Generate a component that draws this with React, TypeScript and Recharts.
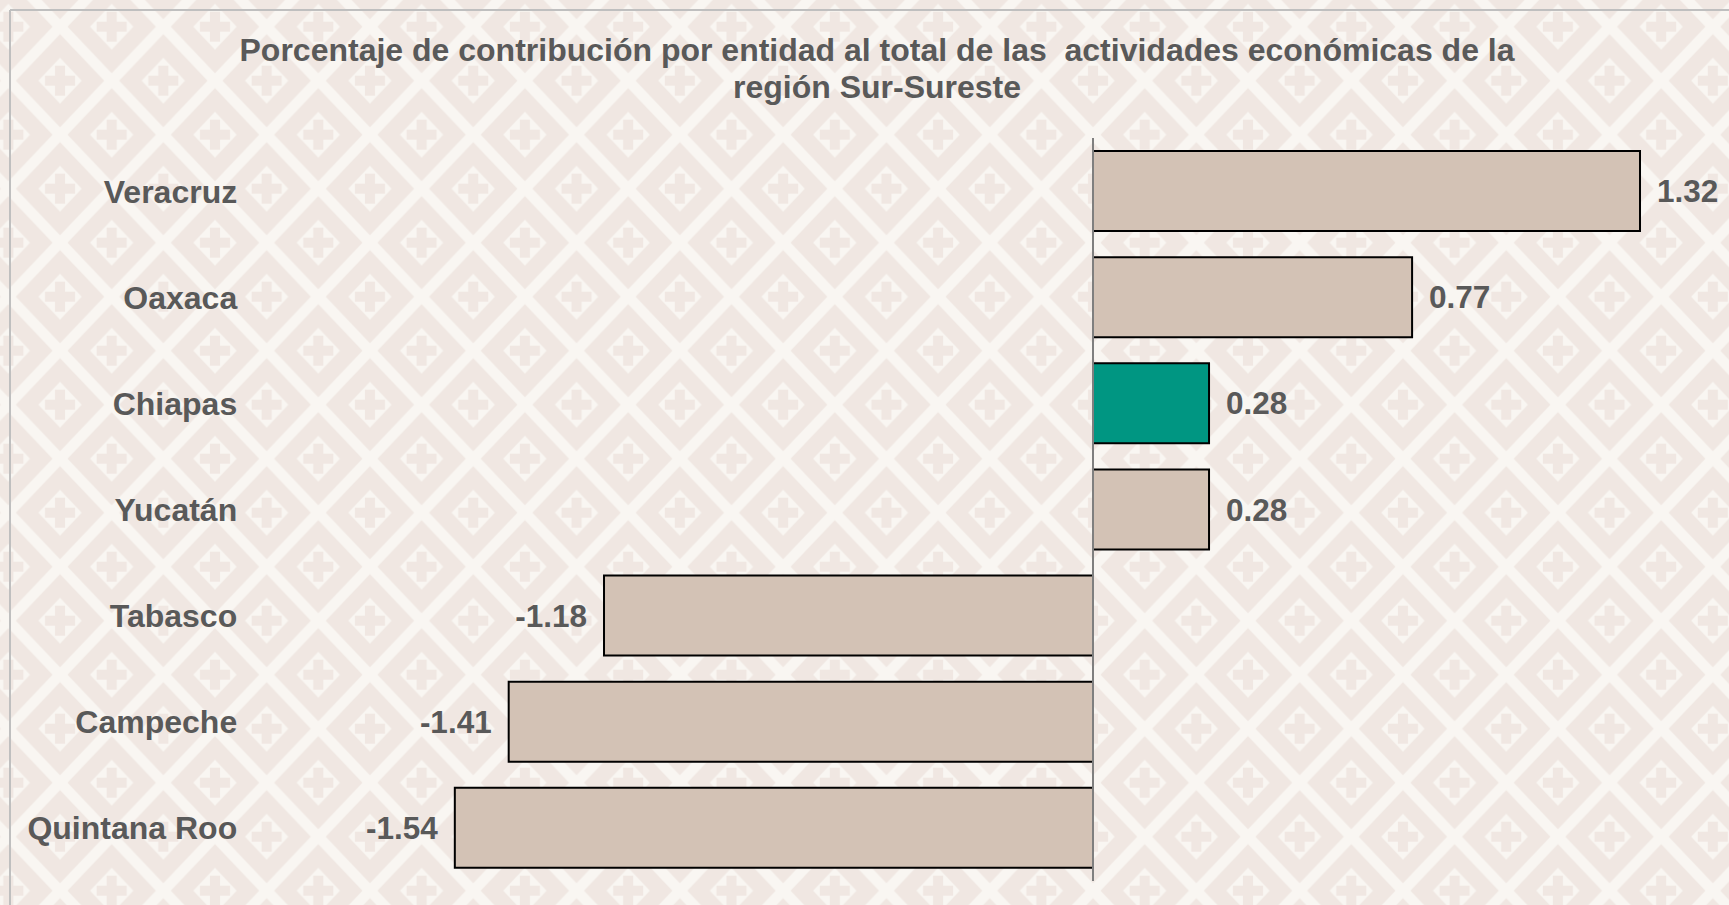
import React from 'react';
import { BarChart, Bar, XAxis, YAxis, Cell, LabelList, ReferenceLine } from 'recharts';

const states = ['Veracruz', 'Oaxaca', 'Chiapas', 'Yucatán', 'Tabasco', 'Campeche', 'Quintana Roo'];
const contribution = [1.32, 0.77, 0.28, 0.28, -1.18, -1.41, -1.54];
const highlightState = 'Chiapas';
const titleLines = [
  'Porcentaje de contribución por entidad al total de las  actividades económicas de la',
  'región Sur-Sureste',
];
const xDomain: [number, number] = [-2, 1.5];

const data = states.map((s, i) => ({ state: s, value: contribution[i] }));

const FONT = '"Liberation Sans", Arial, sans-serif';
const TEXT = '#595959';
const LIGHT = '#F9F6F2';
const DARK = '#F0E7E2';

const PW = 103.3;
const PH = 108;

function Motif({ cx, cy }: { cx: number; cy: number }) {
  const g = 7.5;
  const ox = PW / 2 - g;
  const oy = PH / 2 - g;
  const ix = 21.7;
  const iy = 23;
  const ca = 15;
  const cw = 5;
  return (
    <g>
      <polygon points={`${cx},${cy - oy} ${cx + ox},${cy} ${cx},${cy + oy} ${cx - ox},${cy}`} fill={DARK} />
      <polygon points={`${cx},${cy - iy} ${cx + ix},${cy} ${cx},${cy + iy} ${cx - ix},${cy}`} fill={LIGHT} />
      <rect x={cx - ca} y={cy - cw} width={ca * 2} height={cw * 2} fill={DARK} />
      <rect x={cx - cw} y={cy - ca} width={cw * 2} height={ca * 2} fill={DARK} />
    </g>
  );
}

function Background() {
  return (
    <svg width={1729} height={905} style={{ position: 'absolute', left: 0, top: 0 }}>
      <defs>
        <pattern id="bgpat" patternUnits="userSpaceOnUse" x={8.4} y={26.7} width={PW} height={PH}>
          <rect x={0} y={0} width={PW} height={PH} fill={LIGHT} />
          <Motif cx={0} cy={0} />
          <Motif cx={PW} cy={0} />
          <Motif cx={0} cy={PH} />
          <Motif cx={PW} cy={PH} />
          <Motif cx={PW / 2} cy={PH / 2} />
        </pattern>
      </defs>
      <rect x={0} y={0} width={1729} height={905} fill="url(#bgpat)" />
      <line x1={10} y1={10} x2={1729} y2={10} stroke="#BFBFBF" strokeWidth={2} />
      <line x1={10} y1={10} x2={10} y2={905} stroke="#BFBFBF" strokeWidth={2} />
    </svg>
  );
}

const CategoryTick = (props: any) => {
  const { x, y, payload } = props;
  return (
    <text x={x} y={y} dy="0.36em" textAnchor="end" fill={TEXT} fontSize={32} fontWeight="bold" fontFamily={FONT}>
      {payload.value}
    </text>
  );
};

export default function App() {
  return (
    <div style={{ position: 'absolute', left: 0, top: 0, width: 1729, height: 905, overflow: 'hidden' }}>
      <Background />
      <div
        style={{
          position: 'absolute',
          left: 177,
          width: 1400,
          top: 31.5,
          textAlign: 'center',
          fontFamily: FONT,
          fontWeight: 'bold',
          fontSize: 32,
          lineHeight: '37px',
          color: TEXT,
          whiteSpace: 'pre',
        }}
      >
        {titleLines.map((l) => (
          <div key={l}>{l}</div>
        ))}
      </div>
      <div style={{ position: 'absolute', left: 0, top: 0 }}>
        <BarChart
          width={1729}
          height={905}
          data={data}
          layout="vertical"
          margin={{ top: 138, right: 14.4, bottom: 24, left: 0 }}
        >
          <XAxis type="number" domain={xDomain} hide />
          <YAxis
            type="category"
            dataKey="state"
            width={264.2}
            axisLine={false}
            tickLine={false}
            tickSize={0}
            tickMargin={27}
            tick={<CategoryTick />}
            interval={0}
          />
          <Bar dataKey="value" barSize={80} stroke="#000000" strokeWidth={2} isAnimationActive={false}>
            {data.map((d) => (
              <Cell key={d.state} fill={d.state === highlightState ? '#009682' : '#D3C2B5'} />
            ))}
            <LabelList
              dataKey="value"
              position="right"
              offset={17}
              formatter={(v: any) => Number(v).toFixed(2)}
              fill={TEXT}
              fontSize={31.5}
              fontWeight="bold"
              fontFamily={FONT}
            />
          </Bar>
          <ReferenceLine x={0} stroke="#7F7F7F" strokeWidth={2} ifOverflow="extendDomain" />
        </BarChart>
      </div>
    </div>
  );
}
